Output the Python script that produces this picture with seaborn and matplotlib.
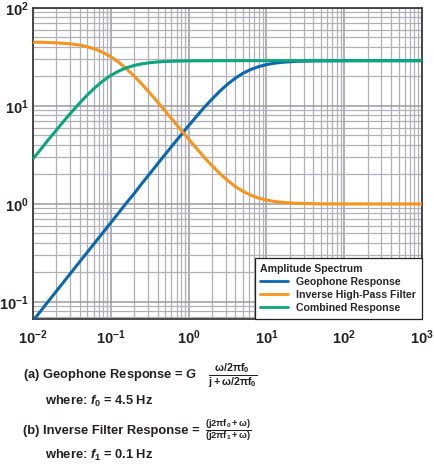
import matplotlib
matplotlib.use("Agg")
import matplotlib.pyplot as plt
import seaborn as sns
import pandas as pd

# values (frequency in Hz, amplitude)
freq = [0.01, 0.0126, 0.0158, 0.02, 0.0251, 0.0316, 0.0398, 0.0501, 0.0631, 0.0794,
        0.1, 0.126, 0.158, 0.2, 0.251, 0.316, 0.398, 0.501, 0.631, 0.794,
        1, 1.26, 1.58, 2.0, 2.51, 3.16, 3.98, 5.01, 6.31, 7.94,
        10, 12.6, 15.8, 20, 25.1, 31.6, 39.8, 50.1, 63.1, 79.4, 100, 1000]
geophone = [0.0644, 0.081, 0.102, 0.129, 0.162, 0.204, 0.257, 0.323, 0.407, 0.512,
            0.644, 0.811, 1.02, 1.28, 1.62, 2.03, 2.56, 3.21, 4.03, 5.04,
            6.29, 7.81, 9.63, 11.76, 14.14, 16.67, 19.2, 21.6, 23.6, 25.2,
            26.45, 27.3, 27.9, 28.29, 28.55, 28.71, 28.82, 28.88, 28.93, 28.95, 28.97, 29.0]
inverse = [44.8, 44.65, 44.45, 44.1, 43.6, 42.9, 41.8, 40.2, 38.1, 35.2,
           31.8, 28.0, 24.0, 20.2, 16.7, 13.6, 11.0, 8.86, 7.11, 5.71,
           4.59, 3.70, 3.00, 2.46, 2.05, 1.74, 1.51, 1.344, 1.228, 1.149,
           1.097, 1.062, 1.040, 1.025, 1.016, 1.010, 1.006, 1.004, 1.0025, 1.0016, 1.001, 1.0]
combined = [2.89, 3.62, 4.54, 5.68, 7.07, 8.74, 10.73, 12.99, 15.48, 18.04,
            20.51, 22.71, 24.53, 25.93, 26.94, 27.65, 28.13, 28.44, 28.64, 28.77,
            28.86, 28.91, 28.94, 28.96, 28.98, 28.99, 28.99, 29.0, 29.0, 29.0,
            29.0, 29.0, 29.0, 29.0, 29.0, 29.0, 29.0, 29.0, 29.0, 29.0, 29.0, 29.0]

series = ["Geophone Response", "Inverse High-Pass Filter", "Combined Response"]
colors = ["#0a68b0", "#f7941d", "#0ba57f"]

df = pd.concat([
    pd.DataFrame({"f": freq, "amp": geophone, "series": series[0]}),
    pd.DataFrame({"f": freq, "amp": inverse, "series": series[1]}),
    pd.DataFrame({"f": freq, "amp": combined, "series": series[2]}),
])

sns.set_style("white")
plt.rcParams["font.family"] = ["Liberation Sans", "DejaVu Sans"]
plt.rcParams["font.weight"] = "bold"
plt.rcParams["mathtext.fontset"] = "custom"
plt.rcParams["mathtext.rm"] = "Liberation Sans:bold"
plt.rcParams["mathtext.bf"] = "Liberation Sans:bold"
plt.rcParams["mathtext.it"] = "Liberation Sans:italic:bold"
plt.rcParams["mathtext.default"] = "regular"

fig = plt.figure(figsize=(4.35, 4.68), dpi=100)
ax = fig.add_axes([0.0759, 0.3184, 0.8943, 0.6645])

sns.lineplot(data=df, x="f", y="amp", hue="series", hue_order=series,
             palette=colors, linewidth=2.2, ax=ax, zorder=3)

ax.set_xscale("log")
ax.set_yscale("log")
ax.set_xlim(0.01, 1000)
ax.set_ylim(0.067, 100)
ax.set_xlabel("")
ax.set_ylabel("")

ax.grid(True, which="major", color="#9a9aa0", linewidth=1.1)
ax.grid(True, which="minor", color="#b0b0b6", linewidth=0.9)
ax.tick_params(which="both", length=0, labelsize=10.5, colors="#231f20")
ax.tick_params(axis="x", pad=7)
ax.tick_params(axis="y", pad=3)
for s in ax.spines.values():
    s.set_color("#3a3a3c")
    s.set_linewidth(1.3)

leg = ax.legend(title="Amplitude Spectrum", loc="lower right", borderaxespad=0,
                fontsize=7.6, title_fontsize=7.6, frameon=True, fancybox=False,
                framealpha=1, edgecolor="#231f20", handlelength=2.6,
                labelspacing=0.3, alignment="left", borderpad=0.55)
leg.get_title().set_fontweight("bold")
leg.get_frame().set_linewidth(0.9)
for line in leg.get_lines():
    line.set_linewidth(2)

tc = "#231f20"
fig.text(0.053, 0.198, r"(a) Geophone Response = $\it{G}$", fontsize=9.3, color=tc, va="center")
fig.text(0.478, 0.198, r"$\frac{\omega/2\pi f_0}{j+\omega/2\pi f_0}$", fontsize=11, color=tc, va="center")
fig.text(0.103, 0.143, r"where: $\it{f}_0$ = 4.5 Hz", fontsize=9.3, color=tc, va="center")
fig.text(0.053, 0.079, "(b) Inverse Filter Response =", fontsize=9.3, color=tc, va="center")
fig.text(0.472, 0.079, r"$\frac{(j2\pi f_0+\omega)}{(j2\pi f_1+\omega)}$", fontsize=9.5, color=tc, va="center")
fig.text(0.103, 0.026, r"where: $\it{f}_1$ = 0.1 Hz", fontsize=9.3, color=tc, va="center")

fig.savefig("out.png", dpi=100)
